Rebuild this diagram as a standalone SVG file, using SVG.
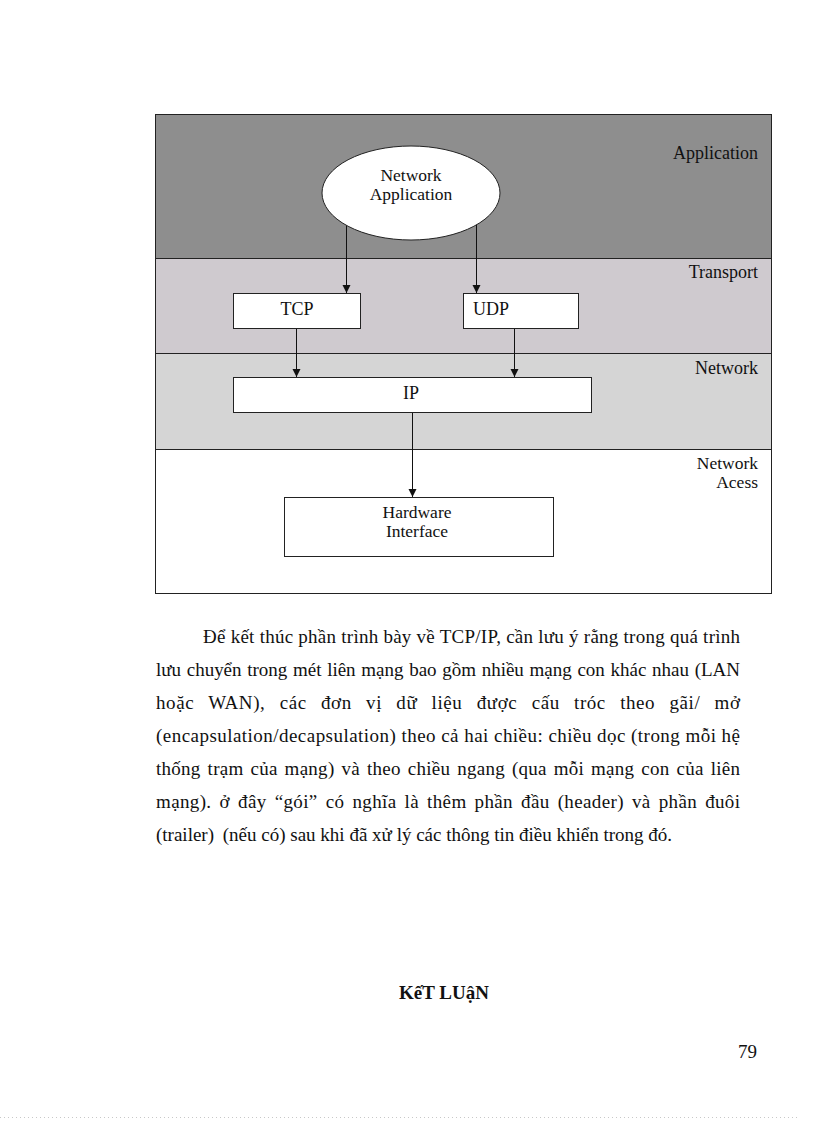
<svg xmlns="http://www.w3.org/2000/svg" width="816" height="1123" viewBox="0 0 816 1123">
<style>
.lbl{font-family:"Liberation Serif","Times New Roman",serif;font-size:18px;fill:#111}
.two{font-size:17.5px}
.lr{text-anchor:end}
.mid{text-anchor:middle}
.box{fill:#fff;stroke:#222;stroke-width:1}
.band{stroke:#222;stroke-width:1}
.conn{stroke:#111;stroke-width:1;fill:none;marker-end:url(#arr)}
.para{font-family:"Liberation Serif","Times New Roman",serif;font-size:19px;fill:#111}
</style>
<defs>
<marker id="arr" viewBox="0 0 8 10" refX="8" refY="5" markerWidth="8" markerHeight="10" markerUnits="userSpaceOnUse" orient="auto">
<path d="M0,5 L8,1 L8,9 Z" transform="rotate(180 4 5)" fill="#111"/>
</marker>
</defs>
<rect width="816" height="1123" fill="#fff"/>
<g id="layers">
<rect class="band" x="155.5" y="114.5" width="616" height="144" fill="#8e8e8e"/>
<rect class="band" x="155.5" y="258.5" width="616" height="95" fill="#cfcacf"/>
<rect class="band" x="155.5" y="353.5" width="616" height="96" fill="#d5d5d5"/>
<rect class="band" x="155.5" y="449.5" width="616" height="144" fill="#fff"/>
<text class="lbl lr" x="758" y="159">Application</text>
<text class="lbl lr" x="758" y="278">Transport</text>
<text class="lbl lr" x="758" y="374">Network</text>
<text class="lbl lr two" x="758" y="469">Network</text>
<text class="lbl lr two" x="758" y="488">Acess</text>
</g>
<g id="connectors">
<line class="conn" x1="346.5" y1="224" x2="346.5" y2="293"/>
<line class="conn" x1="476.5" y1="224" x2="476.5" y2="293"/>
<line class="conn" x1="296.5" y1="329" x2="296.5" y2="377"/>
<line class="conn" x1="514.5" y1="329" x2="514.5" y2="377"/>
<line class="conn" x1="412.5" y1="413" x2="412.5" y2="497"/>
</g>
<g id="network-application">
<ellipse cx="411" cy="193" rx="89" ry="47" fill="#fff" stroke="#222"/>
<text class="lbl mid two" x="411" y="181">Network</text>
<text class="lbl mid two" x="411" y="200">Application</text>
</g>
<g id="tcp">
<rect class="box" x="233.5" y="293.5" width="127" height="35"/>
<text class="lbl mid" x="297" y="315">TCP</text>
</g>
<g id="udp">
<rect class="box" x="463.5" y="293.5" width="115" height="35"/>
<text class="lbl" x="473" y="315">UDP</text>
</g>
<g id="ip">
<rect class="box" x="233.5" y="377.5" width="358" height="35"/>
<text class="lbl mid" x="411" y="399">IP</text>
</g>
<g id="hardware-interface">
<rect class="box" x="284.5" y="497.5" width="269" height="59"/>
<text class="lbl mid two" x="417" y="518">Hardware</text>
<text class="lbl mid two" x="417" y="537">Interface</text>
</g>
<g id="body-text">
<text class="para" x="203" y="643" textLength="537" lengthAdjust="spacing">Để kết thúc phần trình bày về TCP/IP, cần lưu ý rằng trong quá trình</text>
<text class="para" x="156" y="676" textLength="584" lengthAdjust="spacing" word-spacing="1">lưu chuyển trong mét liên mạng bao gồm nhiều mạng con khác nhau (LAN</text>
<text class="para" x="156" y="709" textLength="584" lengthAdjust="spacing" word-spacing="9">hoặc WAN), các đơn vị dữ liệu được cấu tróc theo gãi/ mở</text>
<text class="para" x="156" y="742" textLength="584" lengthAdjust="spacing">(encapsulation/decapsulation) theo cả hai chiều: chiều dọc (trong mỗi hệ</text>
<text class="para" x="156" y="775" textLength="584" lengthAdjust="spacing" word-spacing="2">thống trạm của mạng) và theo chiều ngang (qua mỗi mạng con của liên</text>
<text class="para" x="156" y="808" textLength="584" lengthAdjust="spacing" word-spacing="3">mạng). ở đây “gói” có nghĩa là thêm phần đầu (header) và phần đuôi</text>
<text class="para" x="156" y="841">(trailer) <tspan dx="4">(nếu</tspan> có) sau khi đã xử lý các thông tin điều khiển trong đó.</text>
<text class="para mid" x="444" y="999" font-weight="bold" font-size="18.5">KếT LUậN</text>
<text class="para" x="738" y="1058">79</text>
</g>
<line x1="0" y1="1117.5" x2="800" y2="1117.5" stroke="#c8c8c8" stroke-width="1" stroke-dasharray="1 3"/>
</svg>
